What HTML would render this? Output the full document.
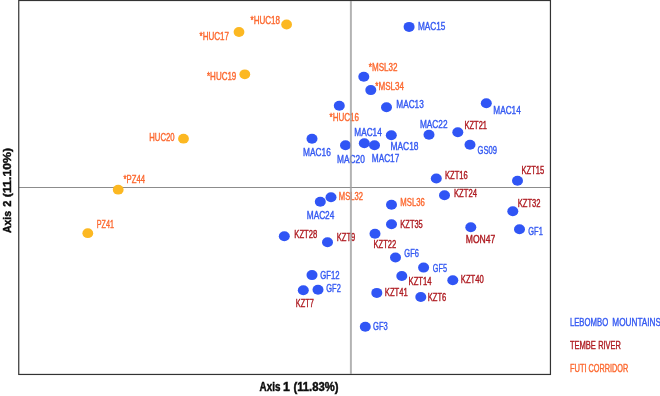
<!DOCTYPE html>
<html><head><meta charset="utf-8"><title>PCoA</title>
<style>
html,body{margin:0;padding:0;background:#fff;}
body{width:660px;height:396px;overflow:hidden;}
svg{display:block;}
text{font-family:"Liberation Sans",sans-serif;}
.l{font-size:10.6px;stroke-width:0.4;paint-order:stroke;}
.t text{font-weight:bold;fill:#0c0c0c;stroke:#0c0c0c;stroke-width:0.45;}
</style></head><body>
<svg width="660" height="396" viewBox="0 0 660 396">
<rect x="0" y="0" width="660" height="396" fill="#fff"/>

<line x1="19" y1="187.5" x2="550" y2="187.5" stroke="#8c8c8c" stroke-width="1.1"/>
<rect x="18.75" y="0.5" width="531.7" height="373.95" fill="none" stroke="#333" stroke-width="1.2"/>
<ellipse cx="286.6" cy="24.5" rx="5.4" ry="4.9" fill="#FCB822"/>
<ellipse cx="239.0" cy="32.0" rx="5.4" ry="4.9" fill="#FCB822"/>
<ellipse cx="244.8" cy="74.3" rx="5.4" ry="4.9" fill="#FCB822"/>
<ellipse cx="183.5" cy="138.7" rx="5.4" ry="4.9" fill="#FCB822"/>
<ellipse cx="118.2" cy="189.7" rx="5.4" ry="4.9" fill="#FCB822"/>
<ellipse cx="87.8" cy="233.2" rx="5.4" ry="4.9" fill="#FCB822"/>
<ellipse cx="409.1" cy="26.9" rx="5.5" ry="5.0" fill="#3055F5"/>
<ellipse cx="363.8" cy="76.8" rx="5.5" ry="5.0" fill="#3055F5"/>
<ellipse cx="370.8" cy="90.1" rx="5.5" ry="5.0" fill="#3055F5"/>
<ellipse cx="339.3" cy="105.8" rx="5.5" ry="5.0" fill="#3055F5"/>
<ellipse cx="386.5" cy="107.3" rx="5.5" ry="5.0" fill="#3055F5"/>
<ellipse cx="312.0" cy="138.7" rx="5.5" ry="5.0" fill="#3055F5"/>
<ellipse cx="345.5" cy="145.2" rx="5.5" ry="5.0" fill="#3055F5"/>
<ellipse cx="364.3" cy="143.3" rx="5.5" ry="5.0" fill="#3055F5"/>
<ellipse cx="374.5" cy="145.3" rx="5.5" ry="5.0" fill="#3055F5"/>
<ellipse cx="391.3" cy="135.2" rx="5.5" ry="5.0" fill="#3055F5"/>
<ellipse cx="429.0" cy="134.7" rx="5.5" ry="5.0" fill="#3055F5"/>
<ellipse cx="436.3" cy="178.5" rx="5.5" ry="5.0" fill="#3055F5"/>
<ellipse cx="486.3" cy="103.3" rx="5.5" ry="5.0" fill="#3055F5"/>
<ellipse cx="457.8" cy="132.2" rx="5.5" ry="5.0" fill="#3055F5"/>
<ellipse cx="470.0" cy="144.8" rx="5.5" ry="5.0" fill="#3055F5"/>
<ellipse cx="517.5" cy="180.7" rx="5.5" ry="5.0" fill="#3055F5"/>
<ellipse cx="331.0" cy="197.2" rx="5.5" ry="5.0" fill="#3055F5"/>
<ellipse cx="320.3" cy="201.8" rx="5.5" ry="5.0" fill="#3055F5"/>
<ellipse cx="391.5" cy="204.7" rx="5.5" ry="5.0" fill="#3055F5"/>
<ellipse cx="391.5" cy="224.2" rx="5.5" ry="5.0" fill="#3055F5"/>
<ellipse cx="375.0" cy="233.7" rx="5.5" ry="5.0" fill="#3055F5"/>
<ellipse cx="284.3" cy="236.3" rx="5.5" ry="5.0" fill="#3055F5"/>
<ellipse cx="327.5" cy="242.3" rx="5.5" ry="5.0" fill="#3055F5"/>
<ellipse cx="395.5" cy="257.5" rx="5.5" ry="5.0" fill="#3055F5"/>
<ellipse cx="423.6" cy="267.6" rx="5.5" ry="5.0" fill="#3055F5"/>
<ellipse cx="312.0" cy="275.1" rx="5.5" ry="5.0" fill="#3055F5"/>
<ellipse cx="401.8" cy="276.0" rx="5.5" ry="5.0" fill="#3055F5"/>
<ellipse cx="318.0" cy="289.7" rx="5.5" ry="5.0" fill="#3055F5"/>
<ellipse cx="303.3" cy="290.2" rx="5.5" ry="5.0" fill="#3055F5"/>
<ellipse cx="376.8" cy="292.9" rx="5.5" ry="5.0" fill="#3055F5"/>
<ellipse cx="420.8" cy="297.0" rx="5.5" ry="5.0" fill="#3055F5"/>
<ellipse cx="365.3" cy="326.7" rx="5.5" ry="5.0" fill="#3055F5"/>
<ellipse cx="444.5" cy="195.3" rx="5.5" ry="5.0" fill="#3055F5"/>
<ellipse cx="512.8" cy="211.2" rx="5.5" ry="5.0" fill="#3055F5"/>
<ellipse cx="470.8" cy="227.2" rx="5.5" ry="5.0" fill="#3055F5"/>
<ellipse cx="519.5" cy="229.3" rx="5.5" ry="5.0" fill="#3055F5"/>
<ellipse cx="452.8" cy="280.2" rx="5.5" ry="5.0" fill="#3055F5"/>
<text class="l" x="250.5" y="23.9" fill="#FC682F" stroke="#FC682F" textLength="29.5" lengthAdjust="spacingAndGlyphs">*HUC18</text>
<text class="l" x="199.5" y="39.9" fill="#FC682F" stroke="#FC682F" textLength="29.5" lengthAdjust="spacingAndGlyphs">*HUC17</text>
<text class="l" x="207.0" y="80.0" fill="#FC682F" stroke="#FC682F" textLength="29.3" lengthAdjust="spacingAndGlyphs">*HUC19</text>
<text class="l" x="149.3" y="140.5" fill="#FC682F" stroke="#FC682F" textLength="25.2" lengthAdjust="spacingAndGlyphs">HUC20</text>
<text class="l" x="123.5" y="182.7" fill="#FC682F" stroke="#FC682F" textLength="21.5" lengthAdjust="spacingAndGlyphs">*PZ44</text>
<text class="l" x="96.8" y="227.9" fill="#FC682F" stroke="#FC682F" textLength="17.2" lengthAdjust="spacingAndGlyphs">PZ41</text>
<text class="l" x="418.0" y="30.1" fill="#3459F2" stroke="#3459F2" textLength="27.4" lengthAdjust="spacingAndGlyphs">MAC15</text>
<text class="l" x="368.8" y="70.5" fill="#FC682F" stroke="#FC682F" textLength="28.7" lengthAdjust="spacingAndGlyphs">*MSL32</text>
<text class="l" x="375.3" y="90.0" fill="#FC682F" stroke="#FC682F" textLength="28.7" lengthAdjust="spacingAndGlyphs">*MSL34</text>
<text class="l" x="329.5" y="121.3" fill="#FC682F" stroke="#FC682F" textLength="29.5" lengthAdjust="spacingAndGlyphs">*HUC16</text>
<text class="l" x="396.3" y="108.0" fill="#3459F2" stroke="#3459F2" textLength="27.5" lengthAdjust="spacingAndGlyphs">MAC13</text>
<text class="l" x="354.3" y="135.6" fill="#3459F2" stroke="#3459F2" textLength="27.5" lengthAdjust="spacingAndGlyphs">MAC14</text>
<text class="l" x="303.0" y="156.4" fill="#3459F2" stroke="#3459F2" textLength="27.8" lengthAdjust="spacingAndGlyphs">MAC16</text>
<text class="l" x="337.0" y="162.9" fill="#3459F2" stroke="#3459F2" textLength="27.8" lengthAdjust="spacingAndGlyphs">MAC20</text>
<text class="l" x="371.8" y="162.1" fill="#3459F2" stroke="#3459F2" textLength="27.5" lengthAdjust="spacingAndGlyphs">MAC17</text>
<text class="l" x="390.5" y="149.6" fill="#3459F2" stroke="#3459F2" textLength="28.0" lengthAdjust="spacingAndGlyphs">MAC18</text>
<text class="l" x="420.0" y="128.1" fill="#3459F2" stroke="#3459F2" textLength="27.5" lengthAdjust="spacingAndGlyphs">MAC22</text>
<text class="l" x="493.3" y="114.3" fill="#3459F2" stroke="#3459F2" textLength="27.5" lengthAdjust="spacingAndGlyphs">MAC14</text>
<text class="l" x="464.5" y="128.9" fill="#AE1A20" stroke="#AE1A20" textLength="22.5" lengthAdjust="spacingAndGlyphs">KZT21</text>
<text class="l" x="477.5" y="154.1" fill="#3459F2" stroke="#3459F2" textLength="19.5" lengthAdjust="spacingAndGlyphs">GS09</text>
<text class="l" x="445.0" y="179.4" fill="#AE1A20" stroke="#AE1A20" textLength="22.8" lengthAdjust="spacingAndGlyphs">KZT16</text>
<text class="l" x="521.5" y="173.6" fill="#AE1A20" stroke="#AE1A20" textLength="22.8" lengthAdjust="spacingAndGlyphs">KZT15</text>
<text class="l" x="338.8" y="199.9" fill="#FC682F" stroke="#FC682F" textLength="24.2" lengthAdjust="spacingAndGlyphs">MSL32</text>
<text class="l" x="400.3" y="205.9" fill="#FC682F" stroke="#FC682F" textLength="24.5" lengthAdjust="spacingAndGlyphs">MSL36</text>
<text class="l" x="306.8" y="219.1" fill="#3459F2" stroke="#3459F2" textLength="27.5" lengthAdjust="spacingAndGlyphs">MAC24</text>
<text class="l" x="400.3" y="227.6" fill="#AE1A20" stroke="#AE1A20" textLength="22.5" lengthAdjust="spacingAndGlyphs">KZT35</text>
<text class="l" x="373.5" y="248.1" fill="#AE1A20" stroke="#AE1A20" textLength="22.8" lengthAdjust="spacingAndGlyphs">KZT22</text>
<text class="l" x="294.3" y="237.9" fill="#AE1A20" stroke="#AE1A20" textLength="23.0" lengthAdjust="spacingAndGlyphs">KZT28</text>
<text class="l" x="336.8" y="241.1" fill="#AE1A20" stroke="#AE1A20" textLength="18.5" lengthAdjust="spacingAndGlyphs">KZT9</text>
<text class="l" x="404.3" y="257.1" fill="#3459F2" stroke="#3459F2" textLength="14.6" lengthAdjust="spacingAndGlyphs">GF6</text>
<text class="l" x="320.3" y="278.9" fill="#3459F2" stroke="#3459F2" textLength="19.2" lengthAdjust="spacingAndGlyphs">GF12</text>
<text class="l" x="326.3" y="292.4" fill="#3459F2" stroke="#3459F2" textLength="14.5" lengthAdjust="spacingAndGlyphs">GF2</text>
<text class="l" x="295.8" y="306.6" fill="#AE1A20" stroke="#AE1A20" textLength="18.0" lengthAdjust="spacingAndGlyphs">KZT7</text>
<text class="l" x="408.5" y="284.9" fill="#AE1A20" stroke="#AE1A20" textLength="23.1" lengthAdjust="spacingAndGlyphs">KZT14</text>
<text class="l" x="384.8" y="296.1" fill="#AE1A20" stroke="#AE1A20" textLength="23.0" lengthAdjust="spacingAndGlyphs">KZT41</text>
<text class="l" x="373.0" y="329.6" fill="#3459F2" stroke="#3459F2" textLength="14.8" lengthAdjust="spacingAndGlyphs">GF3</text>
<text class="l" x="454.0" y="197.1" fill="#AE1A20" stroke="#AE1A20" textLength="23.0" lengthAdjust="spacingAndGlyphs">KZT24</text>
<text class="l" x="517.8" y="207.4" fill="#AE1A20" stroke="#AE1A20" textLength="22.7" lengthAdjust="spacingAndGlyphs">KZT32</text>
<text class="l" x="465.8" y="242.9" fill="#AE1A20" stroke="#AE1A20" textLength="29.5" lengthAdjust="spacingAndGlyphs">MON47</text>
<text class="l" x="528.3" y="234.6" fill="#3459F2" stroke="#3459F2" textLength="14.5" lengthAdjust="spacingAndGlyphs">GF1</text>
<text class="l" x="432.8" y="272.1" fill="#3459F2" stroke="#3459F2" textLength="14.2" lengthAdjust="spacingAndGlyphs">GF5</text>
<text class="l" x="460.8" y="282.9" fill="#AE1A20" stroke="#AE1A20" textLength="23.0" lengthAdjust="spacingAndGlyphs">KZT40</text>
<text class="l" x="427.8" y="300.9" fill="#AE1A20" stroke="#AE1A20" textLength="18.5" lengthAdjust="spacingAndGlyphs">KZT6</text>
<line x1="350.9" y1="1" x2="350.9" y2="374" stroke="#a0a0a0" stroke-opacity="0.8" stroke-width="2.0"/>
<text class="l" x="569.9" y="326.2" fill="#3459F2" stroke="#3459F2" textLength="38.3" lengthAdjust="spacingAndGlyphs">LEBOMBO</text>
<text class="l" x="612.3" y="326.2" fill="#3459F2" stroke="#3459F2" textLength="48.7" lengthAdjust="spacingAndGlyphs">MOUNTAINS</text>
<text class="l" x="569.9" y="349.1" fill="#AE1A20" stroke="#AE1A20" textLength="26.0" lengthAdjust="spacingAndGlyphs">TEMBE</text>
<text class="l" x="598.2" y="349.1" fill="#AE1A20" stroke="#AE1A20" textLength="22.7" lengthAdjust="spacingAndGlyphs">RIVER</text>
<text class="l" x="569.9" y="371.6" fill="#FC682F" stroke="#FC682F" textLength="16.7" lengthAdjust="spacingAndGlyphs">FUTI</text>
<text class="l" x="588.6" y="371.6" fill="#FC682F" stroke="#FC682F" textLength="39.7" lengthAdjust="spacingAndGlyphs">CORRIDOR</text>
<g class="t" font-size="12.6"><text x="259.6" y="390.8" textLength="20.8" lengthAdjust="spacingAndGlyphs">Axis</text><text x="283.0" y="390.8" textLength="6.9" lengthAdjust="spacingAndGlyphs">1</text><text x="293.4" y="390.8" textLength="45.1" lengthAdjust="spacingAndGlyphs">(11.83%)</text></g>
<g class="t" transform="translate(11.4,233.0) rotate(-90)" font-size="11.4"><text x="0" y="0" textLength="22.1" lengthAdjust="spacingAndGlyphs">Axis</text><text x="26.2" y="0" textLength="6.2" lengthAdjust="spacingAndGlyphs">2</text><text x="35.8" y="0" textLength="49.4" lengthAdjust="spacingAndGlyphs">(11.10%)</text></g>
</svg></body></html>
